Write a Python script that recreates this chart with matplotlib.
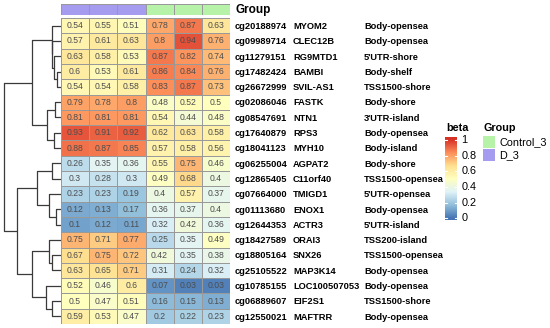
import matplotlib
matplotlib.use("Agg")
import matplotlib.pyplot as plt
import numpy as np
from matplotlib.colors import LinearSegmentedColormap, ListedColormap
from matplotlib.transforms import blended_transform_factory

plt.rcParams['font.family'] = ['Liberation Sans', 'DejaVu Sans']

# ---- data ----
probes = ["cg20188974", "cg09989714", "cg11279151", "cg17482424", "cg26672999",
          "cg02086046", "cg08547691", "cg17640879", "cg18041123", "cg06255004",
          "cg12865405", "cg07664000", "cg01113680", "cg12644353", "cg18427589",
          "cg18805164", "cg25105522", "cg10785155", "cg06889607", "cg12550021"]
genes = ["MYOM2", "CLEC12B", "RG9MTD1", "BAMBI", "SVIL-AS1", "FASTK", "NTN1",
         "RPS3", "MYH10", "AGPAT2", "C11orf40", "TMIGD1", "ENOX1", "ACTR3",
         "ORAI3", "SNX26", "MAP3K14", "LOC100507053", "EIF2S1", "MAFTRR"]
regions = ["Body-opensea", "Body-opensea", "5'UTR-shore", "Body-shelf",
           "TSS1500-shore", "Body-shore", "3'UTR-island", "Body-opensea",
           "Body-island", "Body-shore", "TSS1500-opensea", "5'UTR-opensea",
           "Body-opensea", "5'UTR-island", "TSS200-island", "TSS1500-opensea",
           "Body-opensea", "Body-opensea", "TSS1500-shore", "Body-opensea"]
groups = ["D_3", "D_3", "D_3", "Control_3", "Control_3", "Control_3"]
beta = [
    [0.54, 0.55, 0.51, 0.78, 0.87, 0.63],
    [0.57, 0.61, 0.63, 0.80, 0.94, 0.76],
    [0.63, 0.58, 0.53, 0.87, 0.82, 0.74],
    [0.60, 0.53, 0.61, 0.86, 0.84, 0.76],
    [0.54, 0.54, 0.58, 0.83, 0.87, 0.73],
    [0.79, 0.78, 0.80, 0.48, 0.52, 0.50],
    [0.81, 0.81, 0.81, 0.54, 0.44, 0.48],
    [0.93, 0.91, 0.92, 0.62, 0.63, 0.58],
    [0.88, 0.87, 0.85, 0.57, 0.58, 0.56],
    [0.26, 0.35, 0.36, 0.55, 0.75, 0.46],
    [0.30, 0.28, 0.30, 0.49, 0.68, 0.40],
    [0.23, 0.23, 0.19, 0.40, 0.57, 0.37],
    [0.12, 0.13, 0.17, 0.36, 0.37, 0.40],
    [0.10, 0.12, 0.11, 0.32, 0.42, 0.36],
    [0.75, 0.71, 0.77, 0.25, 0.35, 0.49],
    [0.67, 0.75, 0.72, 0.42, 0.35, 0.38],
    [0.63, 0.65, 0.71, 0.31, 0.24, 0.32],
    [0.52, 0.46, 0.60, 0.07, 0.03, 0.03],
    [0.50, 0.47, 0.51, 0.16, 0.15, 0.13],
    [0.59, 0.53, 0.47, 0.20, 0.22, 0.23],
]
# row clustering (leaves in display order 0..19, new clusters numbered from 20)
merges = [
    (3, 4, 4), (2, 20, 7), (1, 21, 8.5), (0, 22, 9),
    (5, 6, 6), (7, 8, 6.5), (24, 25, 14), (23, 26, 29),
    (9, 10, 9), (12, 13, 5), (11, 29, 12), (28, 30, 24),
    (15, 16, 9), (14, 32, 12), (18, 19, 9), (17, 34, 15),
    (33, 35, 29), (31, 36, 44), (27, 37, 57),
]

group_colors = {"D_3": "#A59CF0", "Control_3": "#B6F3A9"}
cmap = LinearSegmentedColormap.from_list(
    "rdylbu", ["#4575B4", "#91BFDB", "#E0F3F8", "#FFFFBF", "#FEE090", "#FC8D59", "#D73027"])

W, H = 550, 328
fig = plt.figure(figsize=(W / 100, H / 100), dpi=100)


def px_axes(x0, y0, x1, y1):
    return fig.add_axes([x0 / W, 1 - y1 / H, (x1 - x0) / W, (y1 - y0) / H])


data = np.array(beta)
nr, nc = data.shape

# heatmap
ax = px_axes(61, 18, 230, 324)
ax.pcolormesh(data, cmap=cmap, vmin=0, vmax=1, edgecolors="#999999", linewidth=0.6)
ax.set_xlim(0, nc)
ax.set_ylim(nr, 0)
ax.axis("off")
for i in range(nr):
    for j in range(nc):
        ax.text(j + 0.5, i + 0.5, f"{data[i, j]:g}", ha="center", va="center",
                fontsize=6.2, color="#4D4D4D")

tr = blended_transform_factory(ax.transAxes, ax.transData)
for i in range(nr):
    ax.text(1.03, i + 0.55, probes[i], transform=tr, ha="left", va="center",
            fontsize=6.7, fontweight="bold")
    ax.text(1.373, i + 0.55, genes[i], transform=tr, ha="left", va="center",
            fontsize=6.7, fontweight="bold")
    ax.text(1.793, i + 0.55, regions[i], transform=tr, ha="left", va="center",
            fontsize=6.7, fontweight="bold")

# annotation bar
axg = px_axes(61, 3.5, 230, 15)
axg.pcolormesh(np.arange(nc)[None, :], cmap=ListedColormap([group_colors[g] for g in groups]),
               edgecolors="#999999", linewidth=0.6)
axg.set_xlim(0, nc)
axg.axis("off")
fig.text(235 / W, 1 - 9.5 / H, "Group", fontsize=8.5, fontweight="bold", va="center")

# dendrogram
axd = px_axes(2, 18, 61, 324)
pos = {i: (0.0, i + 0.5) for i in range(nr)}
for k, (a, b, h) in enumerate(merges):
    ha_, ya = pos[a]
    hb, yb = pos[b]
    axd.plot([ha_, h, h, hb], [ya, ya, yb, yb], color="#3A3A3A", lw=0.9,
             solid_capstyle="butt")
    pos[nr + k] = (h, (ya + yb) / 2)
axd.set_xlim(59, 0)
axd.set_ylim(nr, 0)
axd.axis("off")

# colour legend
axc = px_axes(445, 137, 457, 220)
grad = np.linspace(-0.02, 1.04, 200)[:, None]
axc.imshow(grad, cmap=cmap, vmin=0, vmax=1, aspect="auto", origin="lower",
           extent=[0, 1, -0.02, 1.04])
ticks = [0, 0.2, 0.4, 0.6, 0.8, 1]
for t in ticks:
    axc.plot([0, 0.2], [t, t], color="white", lw=0.8)
    axc.plot([0.8, 1], [t, t], color="white", lw=0.8)
    axc.text(1.35, t, f"{t:g}", fontsize=7.8, va="center", ha="left")
axc.set_xlim(0, 1)
axc.set_ylim(-0.02, 1.04)
axc.axis("off")
fig.text(446 / W, 1 - 128 / H, "beta", fontsize=7.8, fontweight="bold", va="center")

# group legend
fig.text(483 / W, 1 - 128 / H, "Group", fontsize=7.8, fontweight="bold", va="center")
for k, g in enumerate(["Control_3", "D_3"]):
    y0 = 136 + k * 13
    axl = px_axes(483, y0, 495, y0 + 12)
    axl.set_facecolor(group_colors[g])
    axl.set_xticks([])
    axl.set_yticks([])
    for s in axl.spines.values():
        s.set_visible(False)
    fig.text(499 / W, 1 - (y0 + 6) / H, g, fontsize=7.8, va="center")

fig.savefig("out.png", dpi=100)
